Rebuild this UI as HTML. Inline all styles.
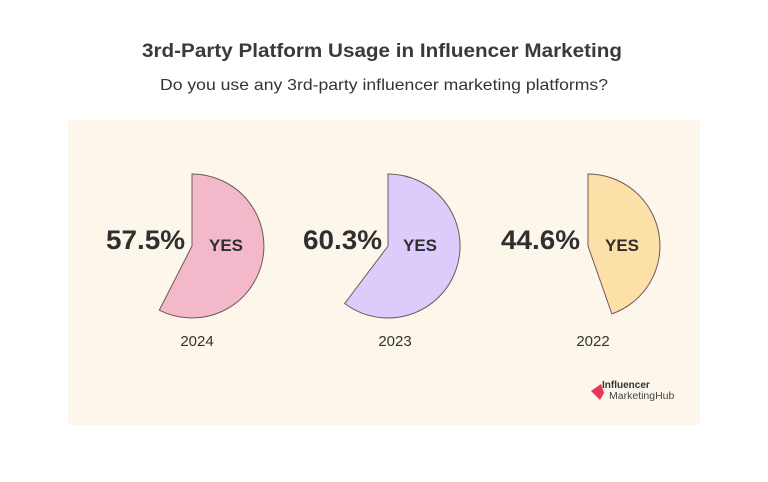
<!DOCTYPE html>
<html><head><meta charset="utf-8"><style>html,body{margin:0;padding:0;background:#fff}</style></head>
<body>
<svg width="768" height="477" xmlns="http://www.w3.org/2000/svg" font-family="Liberation Sans, sans-serif">
<rect width="768" height="477" fill="#fff"/>
<rect x="68" y="120" width="632" height="305" fill="#fdf6ea"/>
<text x="382" y="57" text-anchor="middle" font-size="19" font-weight="bold" fill="#3a3a3a" textLength="480" lengthAdjust="spacingAndGlyphs">3rd-Party Platform Usage in Influencer Marketing</text>
<text x="384" y="90" text-anchor="middle" font-size="16" fill="#333" textLength="448" lengthAdjust="spacingAndGlyphs">Do you use any 3rd-party influencer marketing platforms?</text>
<g stroke="#6b5a5a" stroke-width="1">
<path d="M192,246 L192,174 A72,72 0 1 1 159.3,310.2 Z" fill="#f4b8cb"/>
<path d="M388,246 L388,174 A72,72 0 1 1 344.7,303.5 Z" fill="#dccbfb"/>
<path d="M588,246 L588,174 A72,72 0 0 1 611.9,313.9 Z" fill="#fde0a8"/>
</g>
<g font-weight="bold" fill="#2f2f2f">
<text x="185" y="249" text-anchor="end" font-size="27" textLength="79" lengthAdjust="spacingAndGlyphs">57.5%</text>
<text x="226" y="251" text-anchor="middle" font-size="17">YES</text>
<text x="382" y="249" text-anchor="end" font-size="27" textLength="79" lengthAdjust="spacingAndGlyphs">60.3%</text>
<text x="420" y="251" text-anchor="middle" font-size="17">YES</text>
<text x="580" y="249" text-anchor="end" font-size="27" textLength="79" lengthAdjust="spacingAndGlyphs">44.6%</text>
<text x="622" y="251" text-anchor="middle" font-size="17">YES</text>
</g>
<g font-size="15" fill="#333" text-anchor="middle">
<text x="197" y="346">2024</text>
<text x="395" y="346">2023</text>
<text x="593" y="346">2022</text>
</g>
<path d="M591,391 L601,384 L604,393 L600,400 Z" fill="#e8375a"/>
<text x="602" y="388" font-size="10" font-weight="bold" fill="#333">Influencer</text>
<text x="609" y="399" font-size="10.5" fill="#444">MarketingHub</text>
</svg>
</body></html>
